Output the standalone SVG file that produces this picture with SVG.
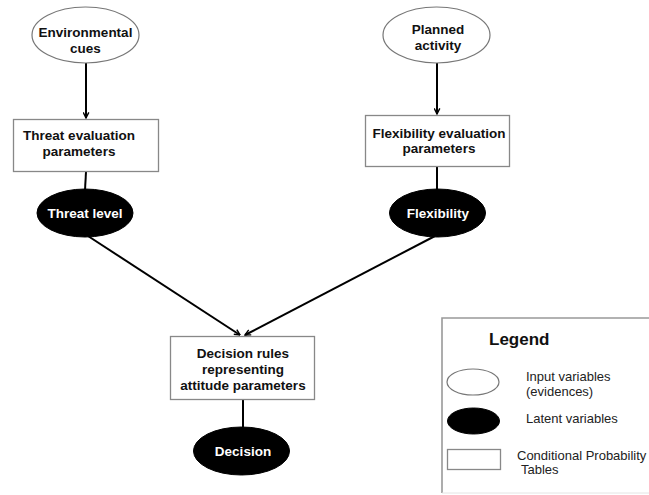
<svg xmlns="http://www.w3.org/2000/svg" width="649" height="495" viewBox="0 0 649 495">
<defs>
<style>
.in{fill:#fff;stroke:#777;stroke-width:1.2}
.lat{fill:#000;stroke:#000}
.box{fill:#fff;stroke:#888;stroke-width:1.3}
.t{font-family:"Liberation Sans",Arial,sans-serif;font-weight:bold;font-size:13.5px;fill:#111;text-anchor:middle}
.w{fill:#fff}
.lg{font-family:"Liberation Sans",Arial,sans-serif;font-size:13px;fill:#222}
.c{stroke:#000;stroke-width:2;fill:none}
</style>
<marker id="ah" viewBox="0 0 10 10" refX="9" refY="5" markerWidth="7" markerHeight="7" orient="auto" markerUnits="userSpaceOnUse">
<path d="M1,1 L9,5 L1,9" fill="none" stroke="#000" stroke-width="2"/>
</marker>
</defs>
<rect width="649" height="495" fill="#fff"/>
<g id="connectors">
<line class="c" x1="86" y1="63" x2="86" y2="118" marker-end="url(#ah)"/>
<line class="c" x1="437" y1="63" x2="437" y2="114" marker-end="url(#ah)"/>
<line class="c" x1="86" y1="172" x2="85" y2="190"/>
<line class="c" x1="437" y1="167" x2="437" y2="190"/>
<line class="c" x1="88" y1="236" x2="240" y2="335" marker-end="url(#ah)"/>
<line class="c" x1="435" y1="236" x2="245" y2="335" marker-end="url(#ah)"/>
<line class="c" x1="243" y1="400" x2="243" y2="428"/>
</g>
<g id="env">
<ellipse class="in" cx="85.5" cy="35" rx="53.5" ry="28"/>
<text class="t" x="85.5" y="37">Environmental</text>
<text class="t" x="85.5" y="53">cues</text>
</g>
<g id="planned">
<ellipse class="in" cx="436.5" cy="35" rx="53.5" ry="28"/>
<text class="t" x="438" y="34">Planned</text>
<text class="t" x="438" y="50">activity</text>
</g>
<g id="threatEval">
<rect class="box" x="13.5" y="119.5" width="145" height="52"/>
<text class="t" x="79" y="140">Threat evaluation</text>
<text class="t" x="79" y="156">parameters</text>
</g>
<g id="flexEval">
<rect class="box" x="365.5" y="115.5" width="144" height="51"/>
<text class="t" x="439" y="138">Flexibility evaluation</text>
<text class="t" x="439" y="153">parameters</text>
</g>
<g id="threat">
<ellipse class="lat" cx="85" cy="213" rx="48" ry="24"/>
<text class="t w" x="85" y="218">Threat level</text>
</g>
<g id="flex">
<ellipse class="lat" cx="437.5" cy="213" rx="48" ry="24"/>
<text class="t w" x="438" y="218">Flexibility</text>
</g>
<g id="rules">
<rect class="box" x="170.5" y="336.5" width="144" height="63"/>
<text class="t" x="243" y="358">Decision rules</text>
<text class="t" x="243" y="374">representing</text>
<text class="t" x="243" y="390">attitude parameters</text>
</g>
<g id="decision">
<ellipse class="lat" cx="241.5" cy="451" rx="48" ry="24"/>
<text class="t w" x="243" y="456">Decision</text>
</g>
<g id="legend">
<path d="M442,493 V318 H649" fill="none" stroke="#999" stroke-width="1.6"/>
<line x1="442" y1="493" x2="649" y2="493" stroke="#e4e4e4" stroke-width="1"/>
<text x="489" y="345" font-family="Liberation Sans, Arial, sans-serif" font-weight="bold" font-size="17" fill="#111">Legend</text>
<ellipse class="in" cx="473" cy="382" rx="26" ry="13"/>
<text class="lg" x="526" y="381">Input variables</text>
<text class="lg" x="526" y="396">(evidences)</text>
<ellipse class="lat" cx="473.5" cy="421" rx="26" ry="13"/>
<text class="lg" x="526" y="423">Latent variables</text>
<rect class="box" x="447.5" y="449.5" width="53" height="20"/>
<text class="lg" x="517" y="460">Conditional Probability</text>
<text class="lg" x="521" y="474">Tables</text>
</g>
</svg>
